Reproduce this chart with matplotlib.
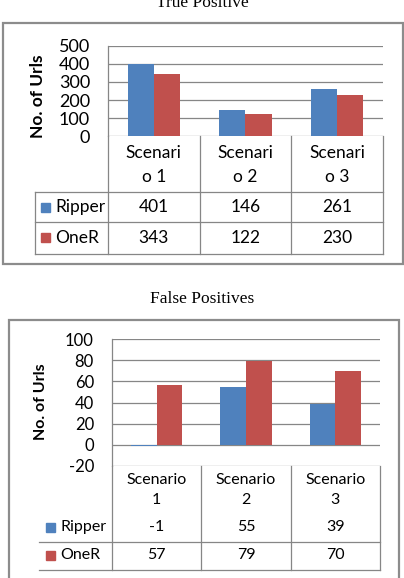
import matplotlib
matplotlib.use("Agg")
import matplotlib.pyplot as plt
from matplotlib.lines import Line2D
from matplotlib.patches import Rectangle
import numpy as np

# ---- data ----
series_names = ["Ripper", "OneR"]
colors = ["#4F81BD", "#C0504D"]

tp_categories = ["Scenari\no 1", "Scenari\no 2", "Scenari\no 3"]
tp_ripper = [401, 146, 261]
tp_oner = [343, 122, 230]
tp_ticks = [0, 100, 200, 300, 400, 500]

fp_categories = ["Scenario\n1", "Scenario\n2", "Scenario\n3"]
fp_ripper = [-1, 55, 39]
fp_oner = [57, 79, 70]
fp_ticks = [-20, 0, 20, 40, 60, 80, 100]

W, H = 404, 578
fig = plt.figure(figsize=(W / 100, H / 100), dpi=100)
fig.patch.set_facecolor("white")

SANS = "Lato"
SERIF = "Liberation Serif"
GRID = "#868686"
FRAME = "#8c8c8c"


def fx(x):
    return x / W


def fy(y):
    return 1 - y / H


def hline(x0, x1, y, color=GRID, lw=0.9):
    fig.add_artist(Line2D([fx(x0), fx(x1)], [fy(y), fy(y)], color=color, lw=lw,
                          transform=fig.transFigure))


def vline(x, y0, y1, color=GRID, lw=0.9):
    fig.add_artist(Line2D([fx(x), fx(x)], [fy(y0), fy(y1)], color=color, lw=lw,
                          transform=fig.transFigure))


def chart(title, title_y, frame, plot_box, cats, vals, ticks, tick_fs, ylabel_xy,
          rows_y, header_y, table_bottom, row_lines, left_x, legend_x, fs,
          left_vline, ylabel_fs):
    # title
    fig.text(0.5, fy(title_y), title, family=SERIF, fontsize=12.5, ha="center",
             va="baseline")
    # frame
    fx0, fy0, fx1, fy1 = frame
    fig.add_artist(Rectangle((fx(fx0), fy(fy1)), fx(fx1) - fx(fx0), fy(fy0) - fy(fy1),
                             transform=fig.transFigure, fill=False, edgecolor=FRAME,
                             lw=1.6))
    x0, ytop, x1, ybot = plot_box
    ax = fig.add_axes([fx(x0), fy(ybot), fx(x1) - fx(x0), fy(ytop) - fy(ybot)])
    n = len(cats)
    x = np.arange(n)
    bw = 1 / 3.5
    for i, (name, v) in enumerate(zip(series_names, vals)):
        ax.bar(x + (i - 0.5) * bw, v, width=bw, color=colors[i], zorder=3)
    ax.set_xlim(-0.5, n - 0.5)
    ax.set_ylim(ticks[0], ticks[-1])
    ax.set_yticks(ticks)
    ax.set_yticklabels([str(t) for t in ticks], family=SANS, fontsize=tick_fs)
    ax.set_xticks([])
    ax.tick_params(axis="y", length=0, pad=13)
    ax.yaxis.grid(True, color=GRID, lw=0.9, zorder=0)
    for s in ["top", "right", "bottom"]:
        ax.spines[s].set_visible(False)
    ax.spines["left"].set_color(GRID)
    ax.spines["left"].set_linewidth(0.9)
    ax.set_facecolor("none")
    fig.text(fx(ylabel_xy[0]), fy(ylabel_xy[1]), "No. of Urls", family=SANS,
             fontweight="bold", fontsize=ylabel_fs, rotation=90, ha="center",
             va="center")

    # table
    col_edges = [x0 + (x1 - x0) * k / n for k in range(n + 1)]
    for cx in col_edges:
        vline(cx, ybot, table_bottom)
    for ry in row_lines:
        hline(left_x, x1, ry)
    if left_vline:
        vline(left_x, row_lines[0], table_bottom)
    for k, c in enumerate(cats):
        cxm = (col_edges[k] + col_edges[k + 1]) / 2
        l1, l2 = c.split("\n")
        fig.text(fx(cxm), fy(header_y[0]), l1, family=SANS, fontsize=fs,
                 ha="center", va="center")
        fig.text(fx(cxm), fy(header_y[1]), l2, family=SANS, fontsize=fs,
                 ha="center", va="center")
    for i, (name, v) in enumerate(zip(series_names, vals)):
        ry = rows_y[i]
        sq = 9
        fig.add_artist(Rectangle((fx(legend_x), fy(ry + sq / 2)), sq / W, sq / H,
                                 transform=fig.transFigure, color=colors[i]))
        fig.text(fx(legend_x + sq + 5), fy(ry), name, family=SANS, fontsize=fs,
                 ha="left", va="center")
        for k, val in enumerate(v):
            cxm = (col_edges[k] + col_edges[k + 1]) / 2
            fig.text(fx(cxm), fy(ry), str(val), family=SANS, fontsize=fs,
                     ha="center", va="center")
    return ax


chart("True Positive", 7, (3, 23, 403, 264), (108, 46, 383, 136),
      tp_categories, [tp_ripper, tp_oner], tp_ticks, 13, (38, 96),
      rows_y=(207, 238), header_y=(153, 177), table_bottom=254,
      row_lines=(192, 222, 254), left_x=35, legend_x=41, fs=12.5,
      left_vline=True, ylabel_fs=12.5)

chart("False Positives", 303, (9, 320, 399, 600), (112, 339, 380, 466),
      fp_categories, [fp_ripper, fp_oner], fp_ticks, 12, (41, 402),
      rows_y=(527, 555), header_y=(480, 500), table_bottom=570,
      row_lines=(542, 570), left_x=39, legend_x=46, fs=11.5,
      left_vline=False, ylabel_fs=11.5)

fig.savefig("out.png", dpi=100)
